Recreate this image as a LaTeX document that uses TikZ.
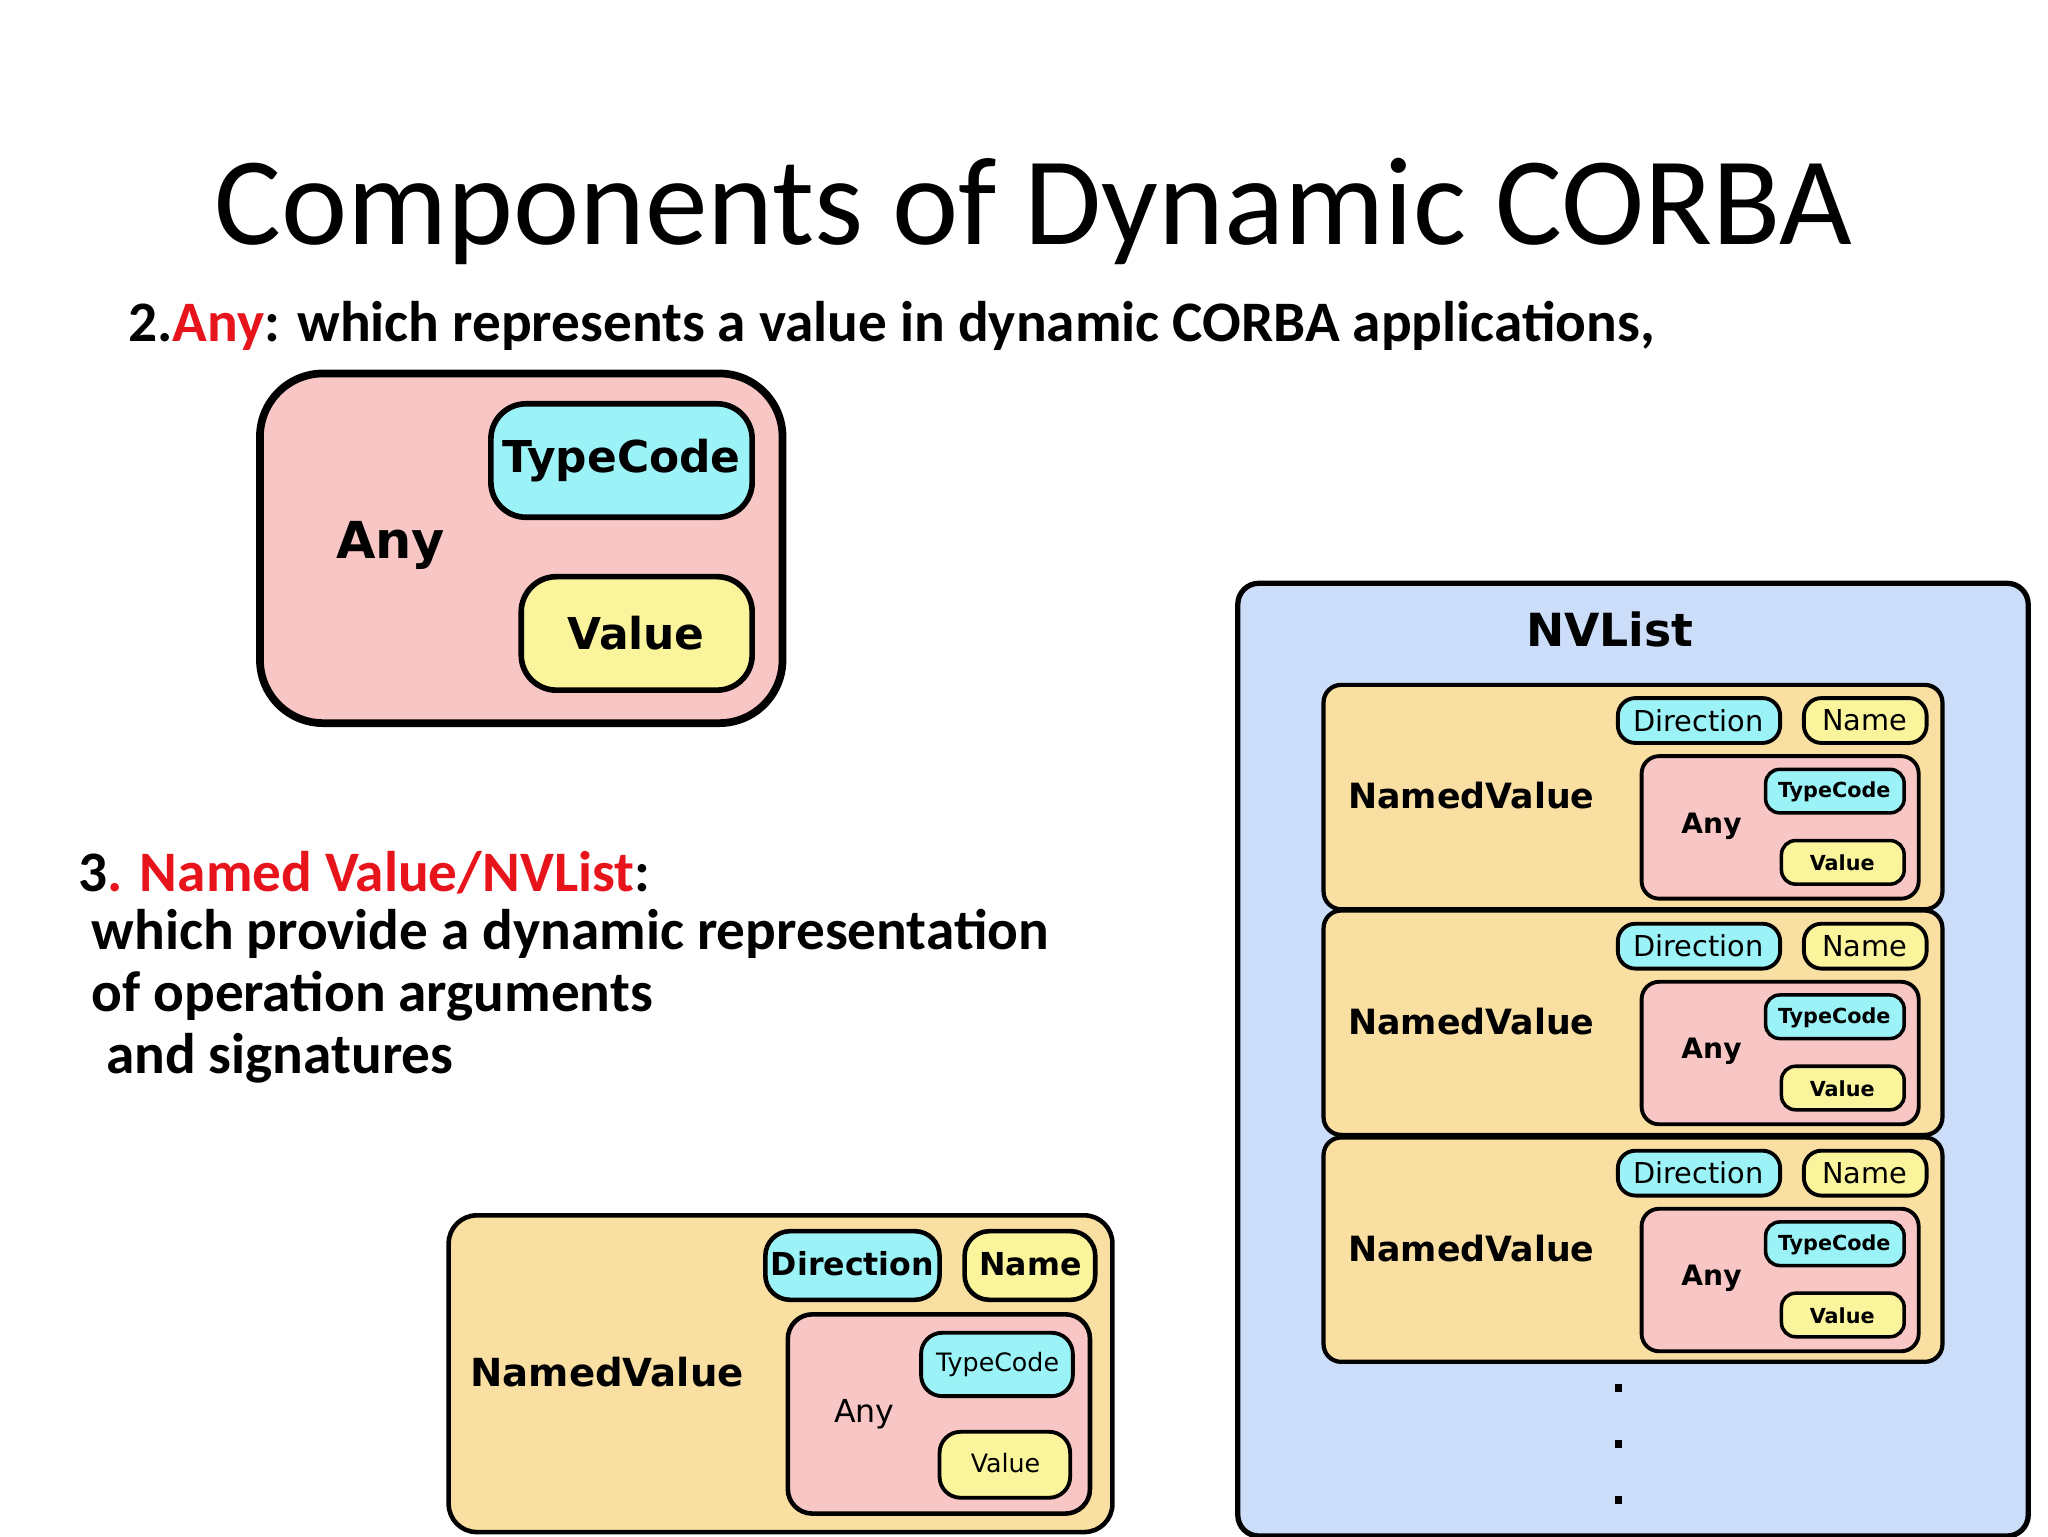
\documentclass[tikz,border=0pt]{standalone}
\usepackage{fontspec}
\setmainfont{Carlito}
\newfontfamily\boxf{DejaVu Sans}
\definecolor{pk}{HTML}{F9C6C6}
\definecolor{cy}{HTML}{9CF3F7}
\definecolor{yl}{HTML}{FAF49C}
\definecolor{og}{HTML}{FADFA2}
\definecolor{bl}{HTML}{CCDDFA}
\definecolor{rd}{HTML}{E8141B}
\begin{document}
\begin{tikzpicture}[x=0.0132cm,y=-0.0132cm,
  bx/.style={draw=black,rounded corners=#1},
  t/.style={font=\boxf\fontsize{#1}{#1}\selectfont}]
\useasboundingbox (0,0) rectangle (1552,1164);
\node (title) at (783,160) {\fontsize{35.7}{40}\selectfont Components of Dynamic CORBA};
\node[anchor=west] (l2) at (88,247) {\fontsize{16.3}{20}\selectfont\bfseries 2.\textcolor{rd}{Any}: which represents a value in dynamic CORBA applications,};
\node[anchor=west] (l3) at (50,661) {\fontsize{16.3}{20}\selectfont\bfseries 3\textcolor{rd}{. Named Value/NVList}:};
\node[anchor=west] (l4) at (60,708) {\fontsize{16.3}{20}\selectfont\bfseries which provide a dynamic representation};
\node[anchor=west] (l5) at (60,755) {\fontsize{16.3}{20}\selectfont\bfseries of operation arguments};
\node[anchor=west] (l6) at (71,802) {\fontsize{16.3}{20}\selectfont\bfseries and signatures};
% Any box
\draw[bx=18pt,line width=2.2pt,fill=pk] (197,283) rectangle (593,548);
\draw[bx=10pt,line width=1.6pt,fill=cy] (372,306) rectangle (570,392);
\draw[bx=10pt,line width=1.6pt,fill=yl] (395,437) rectangle (570,523);
\node[t=12.5] (tc) at (471,349) {\bfseries TypeCode};
\node[t=12.5] (va) at (482,480) {\bfseries Value};
\node[t=14.5] (an) at (296,413) {\bfseries Any};
% bottom NamedValue
\draw[bx=8pt,line width=1.3pt,fill=og] (340,921) rectangle (843,1161);
\draw[bx=7pt,line width=1.3pt,fill=cy] (580,933) rectangle (712,985);
\draw[bx=7pt,line width=1.3pt,fill=yl] (731,933) rectangle (830,985);
\draw[bx=7pt,line width=1.3pt,fill=pk] (597,996) rectangle (826,1147);
\draw[bx=6pt,line width=1.1pt,fill=cy] (698,1010) rectangle (813,1058);
\draw[bx=6pt,line width=1.1pt,fill=yl] (712,1085) rectangle (811,1135);
\node[t=9] (bd) at (646,958) {\bfseries Direction};
\node[t=9] (bn) at (781,958) {\bfseries Name};
\node[t=7.2] (bt) at (756,1034) {TypeCode};
\node[t=7.2] (bv) at (762,1109) {Value};
\node[t=11] (bnv) at (460,1040) {\bfseries NamedValue};
\node[t=9] (ba) at (655,1072) {Any};
% NVList
\draw[bx=6pt,line width=1.5pt,fill=bl] (938,442) rectangle (1537,1164);
\node[t=13] (nvl) at (1220,477) {\bfseries NVList};
\foreach \o [count=\i] in {0,171,343}{
  \begin{scope}[yshift=-\o*0.0132cm]
  \draw[bx=5pt,line width=1.2pt,fill=og] (1003,519) rectangle (1472,689);
  \draw[bx=5pt,line width=1.1pt,fill=cy] (1226,529) rectangle (1349,563);
  \draw[bx=5pt,line width=1.1pt,fill=yl] (1367,529) rectangle (1460,563);
  \draw[bx=5pt,line width=1.1pt,fill=pk] (1244,573) rectangle (1454,681);
  \draw[bx=4pt,line width=1pt,fill=cy] (1338,583) rectangle (1443,616);
  \draw[bx=4pt,line width=1pt,fill=yl] (1350,637) rectangle (1443,670);
  \node[t=8.2] (d\i) at (1287,546) {Direction};
  \node[t=8.2] (n\i) at (1413,546) {Name};
  \node[t=5.9] (tc\i) at (1390,600) {\bfseries TypeCode};
  \node[t=5.9] (v\i) at (1396,654) {\bfseries Value};
  \node[t=9.9] (nv\i) at (1115,603) {\bfseries NamedValue};
  \node[t=8] (a\i) at (1297,626) {\bfseries Any};
  \end{scope}}
\foreach \y in {1052,1094,1137} \fill (1224,\y-3) rectangle (1229,\y+3);
\end{tikzpicture}
\end{document}
